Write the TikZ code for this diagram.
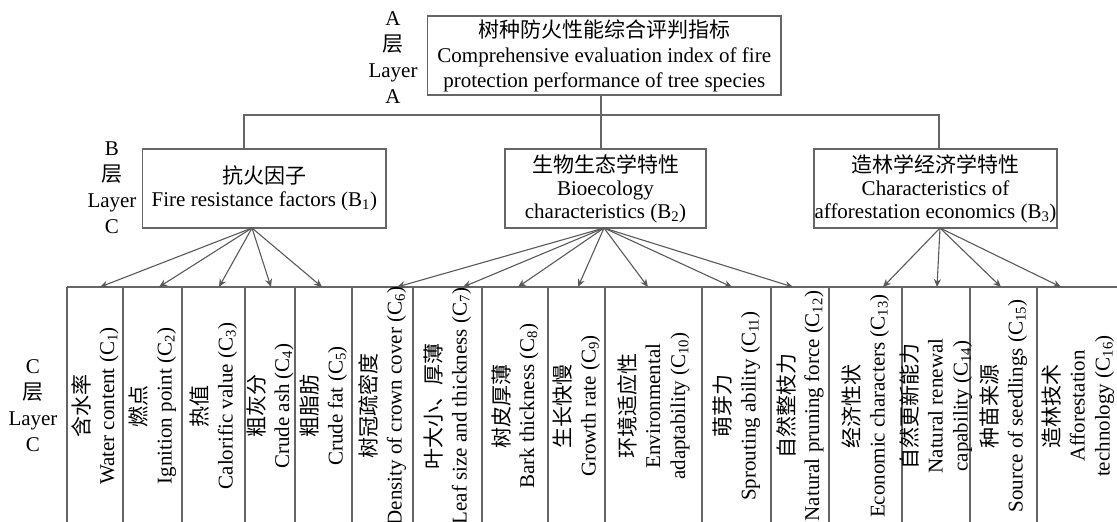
\documentclass[tikz,border=0pt]{standalone}
\usepackage{fontspec}
\setmainfont{Liberation Serif}
\newfontfamily\cjk{Noto Sans CJK SC}
\usetikzlibrary{arrows.meta}
\newcommand{\zh}[1]{{\cjk #1}}
\begin{document}
\begin{tikzpicture}[x=1pt,y=-1pt,
  box/.style={draw=black!60, line width=1.1pt, inner sep=0pt, align=center,
    font=\fontsize{21}{25}\selectfont},
  bbox/.style={box, minimum height=79pt, font=\fontsize{21}{23}\selectfont},
  layer/.style={align=center, inner sep=0pt, font=\fontsize{21}{26}\selectfont},
  ctext/.style={rotate=90, align=center, inner sep=0pt, font=\fontsize{21}{25}\selectfont},
  conn/.style={draw=black!60, line width=1.1pt},
  arr/.style={draw=black!65, line width=1.1pt, -{Stealth[length=8pt,width=7pt]}},
  grid/.style={draw=black!60, line width=1.1pt}]
\useasboundingbox (0,0) rectangle (1117,522);

% Layer labels
\node[layer] (LA) at (393,58) {A\\\zh{层}\\Layer\\A};
\node[layer] (LB) at (112,188) {B\\\zh{层}\\Layer\\C};
\node[layer] (LC) at (33,406) {C\\\zh{层}\\Layer\\C};

% A layer
\node[box, minimum width=353.5pt, minimum height=79pt] (A) at (604.25,55.5)
  {\zh{树种防火性能综合评判指标}\\Comprehensive evaluation index of fire\\protection performance of tree species};

% B layer
\node[bbox, minimum width=243.3pt] (B1) at (264.35,188.5)
  {\zh{抗火因子}\\Fire resistance factors (B\textsubscript{1})};
\node[bbox, minimum width=201pt] (B2) at (605.5,188.5)
  {\zh{生物生态学特性}\\Bioecology\\characteristics (B\textsubscript{2})};
\node[bbox, minimum width=243pt] (B3) at (935.5,188.5)
  {\zh{造林学经济学特性}\\Characteristics of\\afforestation economics (B\textsubscript{3})};

% A -> B connectors
\coordinate (j1) at (244,115);
\coordinate (j2) at (601,115);
\coordinate (j3) at (939,115);
\draw[conn] (A.south -| j2) -- (B2.north -| j2);
\draw[conn] (B1.north -| j1) -- (j1) -- (j3) -- (B3.north -| j3);

% C grid
\draw[grid] (67,287) -- (1117,287);
\foreach \x in {67,123,182,245,295,352,413,482,548,605,702,771,829,902,970,1037}
  \draw[grid] (\x,287) -- (\x,522);

% C texts
\node[ctext] (C1) at (95,406) {\zh{含水率}\\Water content (C\textsubscript{1})};
\node[ctext] (C2) at (152.5,406) {\zh{燃点}\\Ignition point (C\textsubscript{2})};
\node[ctext] (C3) at (213.5,406) {\zh{热值}\\Calorific value (C\textsubscript{3})};
\node[ctext] (C4) at (270,406) {\zh{粗灰分}\\Crude ash (C\textsubscript{4})};
\node[ctext] (C5) at (323.5,406) {\zh{粗脂肪}\\Crude fat (C\textsubscript{5})};
\node[ctext] (C6) at (382.5,406) {\zh{树冠疏密度}\\Density of crown cover (C\textsubscript{6})};
\node[ctext] (C7) at (447.5,406) {\zh{叶大小、厚薄}\\Leaf size and thickness (C\textsubscript{7})};
\node[ctext] (C8) at (515,406) {\zh{树皮厚薄}\\Bark thickness (C\textsubscript{8})};
\node[ctext] (C9) at (576.5,406) {\zh{生长快慢}\\Growth rate (C\textsubscript{9})};
\node[ctext] (C10) at (653.5,406) {\zh{环境适应性}\\Environmental\\adaptability (C\textsubscript{10})};
\node[ctext] (C11) at (736.5,406) {\zh{萌芽力}\\Sprouting ability (C\textsubscript{11})};
\node[ctext] (C12) at (800,406) {\zh{自然整枝力}\\Natural pruning force (C\textsubscript{12})};
\node[ctext] (C13) at (865.5,406) {\zh{经济性状}\\Economic characters (C\textsubscript{13})};
\node[ctext] (C14) at (936,406) {\zh{自然更新能力}\\Natural renewal\\capability (C\textsubscript{14})};
\node[ctext] (C15) at (1003.5,406) {\zh{种苗来源}\\Source of seedlings (C\textsubscript{15})};
\node[ctext] (C16) at (1078,406) {\zh{造林技术}\\Afforestation\\technology (C\textsubscript{16})};

% arrow origins and tips
\coordinate (o1) at (252,228);
\coordinate (o2) at (604,228);
\coordinate (o3) at (940,228);
\foreach \n/\x in {1/100,2/159,3/219,4/271,5/322,6/397,7/463,8/518,9/578,10/648,11/732,12/793,13/883,14/937,15/1001,16/1061}
  \coordinate (t\n) at (\x,287);
\foreach \n in {1,...,5} \draw[arr] (o1) -- (t\n);
\foreach \n in {6,...,12} \draw[arr] (o2) -- (t\n);
\foreach \n in {13,...,16} \draw[arr] (o3) -- (t\n);
\end{tikzpicture}
\end{document}
